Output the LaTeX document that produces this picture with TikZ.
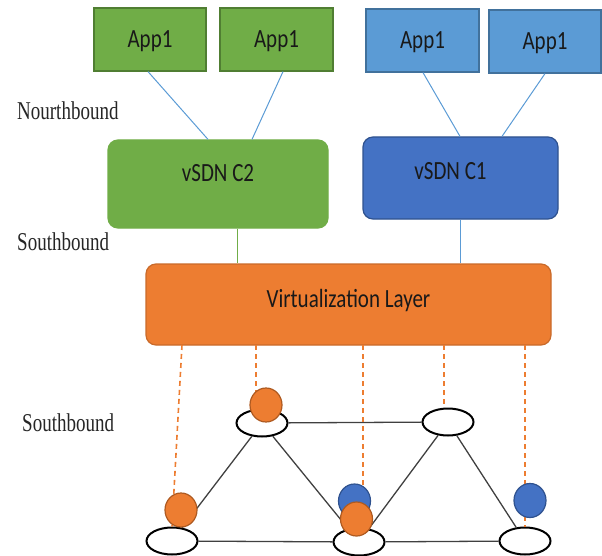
\documentclass[tikz,border=0pt]{standalone}
\usepackage{fontspec}
\usepackage{graphicx}
\setmainfont{Liberation Serif}
\newfontfamily\boxfont{Carlito}
\usetikzlibrary{calc,shapes.geometric}

% tall lettering for box captions and side labels
\newcommand{\sanstext}[1]{\scalebox{1}[1.25]{#1}}
\newcommand{\seriftext}[1]{\scalebox{1}[1.35]{#1}}

\definecolor{appgreen}{HTML}{70AD47}
\definecolor{appgreenline}{HTML}{507E32}
\definecolor{applblue}{HTML}{5B9BD5}
\definecolor{applblueline}{HTML}{41719C}
\definecolor{ctrlblue}{HTML}{4472C4}
\definecolor{ctrlblueline}{HTML}{2F528F}
\definecolor{virtorange}{HTML}{ED7D31}
\definecolor{virtorangeline}{HTML}{AE5A21}
\definecolor{netgray}{HTML}{404040}

\tikzset{
  boxbase/.style={draw, line width=1.2pt, inner sep=0pt, text height=17pt, text depth=0pt,
    font=\boxfont\fontsize{21}{25}\selectfont, text=black!90},
  appgreenbox/.style={boxbase, fill=appgreen, draw=appgreenline,
    minimum width=112pt, minimum height=63pt},
  appbluebox/.style={boxbase, fill=applblue, draw=applblueline,
    minimum width=112pt, minimum height=63pt},
  ctrlbox/.style={boxbase, rounded corners=10pt},
  sidelabel/.style={anchor=base west, inner sep=0pt, font=\fontsize{19}{23}\selectfont, text=black!85},
  switchnode/.style={ellipse, draw=black, line width=2pt, fill=white, inner sep=0pt,
    minimum width=51pt, minimum height=27pt},
  vnodeorange/.style={ellipse, draw=virtorangeline, line width=1.2pt, fill=virtorange, inner sep=0pt,
    minimum width=32pt, minimum height=34pt},
  vnodeblue/.style={ellipse, draw=ctrlblueline, line width=1.2pt, fill=ctrlblue, inner sep=0pt,
    minimum width=32pt, minimum height=34pt},
  applink/.style={draw=applblue, line width=1pt},
  netlink/.style={draw=netgray, line width=1.3pt},
  maplink/.style={draw=virtorange, line width=1.6pt, dash pattern=on 5pt off 4pt}
}

\begin{document}
\begin{tikzpicture}[x=1pt,y=-1pt]
\useasboundingbox (0,0) rectangle (602,556);

% applications
\node[appgreenbox] (g1) at (150,39.5) {\sanstext{App1}};
\node[appgreenbox, minimum width=113pt] (g2) at (276.5,39.5) {\sanstext{App1}};
\node[appbluebox, minimum width=113pt] (b1) at (422.5,40.5) {\sanstext{App1}};
\node[appbluebox] (b2) at (545,41.5) {\sanstext{App1}};

% controllers
\node[ctrlbox, fill=appgreen, draw=appgreen, minimum width=220pt, minimum height=88pt]
  (c2) at (218,184) {\raisebox{10.5pt}{\sanstext{vSDN C2}}};
\node[ctrlbox, fill=ctrlblue, draw=ctrlblueline, minimum width=195pt, minimum height=82pt]
  (c1) at (460.5,178) {\kern-20pt\raisebox{6.5pt}{\sanstext{vSDN C1}}};

% virtualization layer
\node[ctrlbox, fill=virtorange, draw=virtorange!85!black, minimum width=405pt, minimum height=81pt]
  (virt) at (348.5,304.5) {\raisebox{6pt}{\sanstext{Virtualization Layer}}};

% side labels
\node[sidelabel] (nb) at (17,120) {\seriftext{Nourthbound}};
\node[sidelabel] (sb1) at (17,250) {\seriftext{Southbound}};
\node[sidelabel] (sb2) at (22,431) {\seriftext{Southbound}};

% northbound links
\draw[applink] ($(g1.south)+(-2,0)$) -- ($(c2.north)+(-10,0)$);
\draw[applink] ($(g2.south)+(6.5,0)$) -- ($(c2.north)+(34,0)$);
\draw[applink] ($(b1.south)+(0.5,0)$) -- ($(c1.north)+(-0.5,0)$);
\draw[applink] (b2.south) -- ($(c1.north)+(41.5,0)$);

% southbound links
\coordinate (c2out) at ($(c2.south)+(19,0)$);
\draw[draw=appgreen, line width=1pt] (c2out) -- (c2out |- virt.north);
\draw[applink] (c1.south) -- (c1.south |- virt.north);

% physical switches
\node[switchnode] (e1) at (262,423) {};
\node[switchnode] (e2) at (448,422) {};
\node[switchnode] (e3) at (172,541) {};
\node[switchnode] (e4) at (359,542) {};
\node[switchnode] (e5) at (525,541) {};

% physical links
\draw[netlink] (e1) -- (e2);
\draw[netlink] (e1) -- (e3);
\draw[netlink] (e1) -- (e4);
\draw[netlink] (e2) -- (e4);
\draw[netlink] (e2) -- (e5);
\draw[netlink] (e3) -- (e4);
\draw[netlink] (e4) -- (e5);

% mapping from the virtualization layer to switches
\coordinate (m1) at (182,345);
\coordinate (m2) at (256,345);
\coordinate (m3) at (363,345);
\coordinate (m4) at (444,345);
\coordinate (m5) at (525,345);
\draw[maplink] (m1) -- (e3.north);
\draw[maplink] (m2) -- (m2 |- e1.north);
\draw[maplink] (m3) -- (m3 |- e4.north);
\draw[maplink] (m4) -- (m4 |- e2.north);
\draw[maplink] (m5) -- (m5 |- e5.north);

% virtual nodes of both slices
\node[vnodeorange] (o1) at (266,405) {};
\node[vnodeorange] (o2) at (181,510) {};
\node[vnodeblue] (v1) at (354.5,501) {};
\node[vnodeorange] (o3) at (356.5,519) {};
\node[vnodeblue] (v2) at (530,500.5) {};
\end{tikzpicture}
\end{document}
